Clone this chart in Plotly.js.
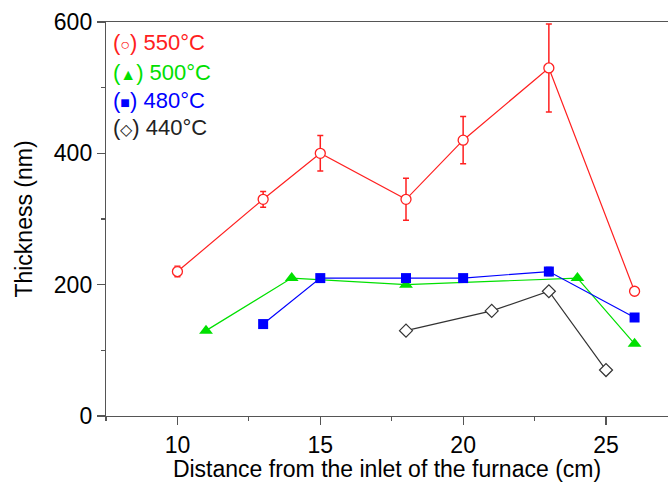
<!DOCTYPE html>
<html>
<head>
<meta charset="utf-8">
<script src="https://cdn.plot.ly/plotly-3.0.1.min.js"></script>
<style>html,body{margin:0;padding:0;background:#fff;}#chart{width:668px;height:482px;}</style>
</head>
<body>
<div id="chart"></div>
<script>
// 550 °C (open circles, with error bars)
const x550 = [10, 13, 15, 18, 20, 23, 26];
const y550 = [220, 330, 400, 330, 420, 530, 190];
const e550 = [8, 12, 27, 32, 36, 67, 5];
// 500 °C (triangles)
const x500 = [11, 14, 18, 24, 26];
const y500 = [130, 210, 200, 210, 110];
// 480 °C (squares)
const x480 = [13, 15, 18, 20, 23, 26];
const y480 = [140, 210, 210, 210, 220, 150];
const e480 = [0, 0, 0, 0, 6, 0];
// 440 °C (open diamonds)
const x440 = [18, 21, 23, 25];
const y440 = [130, 160, 190, 70];

const legendLabels = ['550°C', '500°C', '480°C', '440°C'];
const legendSymbols = ['○', '▲', '■', '◇'];
const xTitle = 'Distance from the inlet of the furnace (cm)';
const yTitle = 'Thickness (nm)';

const cRed = '#ff2020', cGreen = '#00e000', cBlue = '#0000ff', cBlack = '#222222';
const colors = [cRed, cGreen, cBlue, cBlack];

const traces = [
  {x: x550, y: y550, type: 'scatter', mode: 'lines+markers', name: legendLabels[0],
   line: {color: cRed, width: 1.2},
   marker: {symbol: 'circle', size: 10, color: '#ffffff', line: {color: cRed, width: 1.3}},
   error_y: {type: 'data', array: e550, visible: true, color: cRed, thickness: 1.5, width: 3}},
  {x: x500, y: y500, type: 'scatter', mode: 'lines+markers', name: legendLabels[1],
   line: {color: cGreen, width: 1.2},
   marker: {symbol: 'triangle-up', size: 12, color: cGreen, line: {width: 0}}},
  {x: x480, y: y480, type: 'scatter', mode: 'lines+markers', name: legendLabels[2],
   line: {color: cBlue, width: 1.2},
   marker: {symbol: 'square', size: 10, color: cBlue, line: {width: 0}},
   error_y: {type: 'data', array: e480, visible: true, color: cBlue, thickness: 1.5, width: 3}},
  {x: x440, y: y440, type: 'scatter', mode: 'lines+markers', name: legendLabels[3],
   line: {color: '#333333', width: 1.2},
   marker: {symbol: 'diamond', size: 10, color: '#ffffff', line: {color: '#333333', width: 1.2}}}
];

const fontFam = 'Liberation Sans, Arial, sans-serif';
const legendY = [0.947, 0.872, 0.802, 0.732];
const annotations = legendLabels.map((lab, i) => ({
  xref: 'paper', yref: 'paper', x: 0.009, y: legendY[i], xanchor: 'left', yanchor: 'middle',
  showarrow: false,
  text: '(<span style="font-size:16px">' + legendSymbols[i] + '</span>) ' + lab,
  font: {family: fontFam, size: 22, color: colors[i]}
}));

const axisCommon = {
  showgrid: false, zeroline: false, showline: true, linecolor: '#555555', linewidth: 1.2,
  ticks: 'outside', ticklen: 8, tickwidth: 1.2, tickcolor: '#555555',
  tickfont: {family: fontFam, size: 23, color: '#000000'}
};

const layout = {
  width: 668, height: 482,
  margin: {l: 106, r: 0, t: 22, b: 66},
  paper_bgcolor: '#ffffff', plot_bgcolor: '#ffffff',
  showlegend: false,
  xaxis: Object.assign({}, axisCommon, {
    range: [7.5, 27.17], tickmode: 'linear', tick0: 0, dtick: 5, mirror: true,
    minor: {tickmode: 'linear', tick0: 7.5, dtick: 2.5, ticks: 'outside', ticklen: 4, tickcolor: '#555555', tickwidth: 1.2},
    title: {text: xTitle, font: {family: fontFam, size: 23, color: '#000000'}, standoff: 4}
  }),
  yaxis: Object.assign({}, axisCommon, {
    range: [0, 600], tickmode: 'linear', tick0: 0, dtick: 200,
    minor: {tickmode: 'linear', tick0: 0, dtick: 100, ticks: 'outside', ticklen: 4, tickcolor: '#555555', tickwidth: 1.2},
    title: {text: yTitle, font: {family: fontFam, size: 23, color: '#000000'}, standoff: 14}
  }),
  annotations: annotations
};

Plotly.newPlot('chart', traces, layout, {displayModeBar: false, staticPlot: true});
</script>
</body>
</html>
